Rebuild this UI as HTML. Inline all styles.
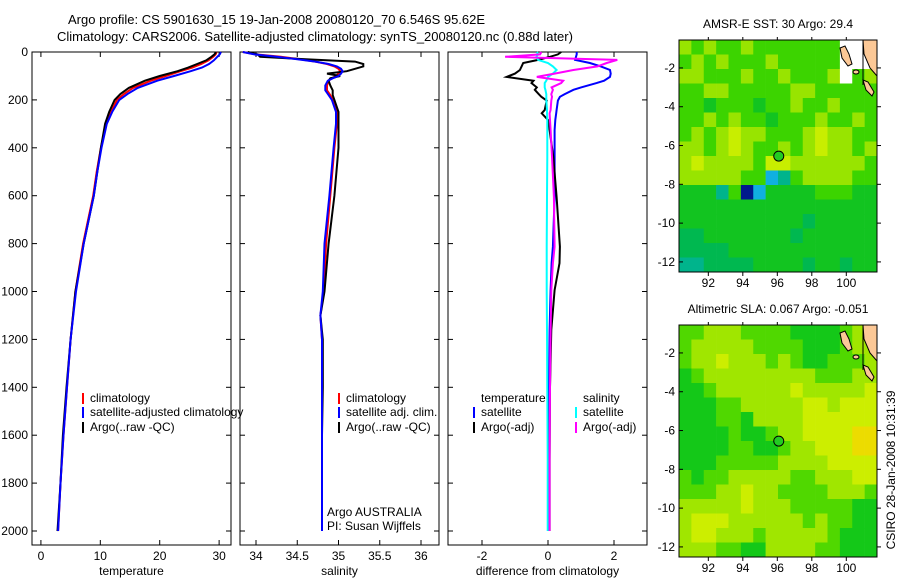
<!DOCTYPE html>
<html><head><meta charset="utf-8"><style>
body{margin:0;background:#fff;}
svg{display:block;font-family:"Liberation Sans",sans-serif;}
text{font-size:12px;fill:#000;}
</style></head><body>
<svg id="fig" width="900" height="580" viewBox="0 0 900 580" xmlns="http://www.w3.org/2000/svg">
<text x="68" y="24" style="font-size:13px">Argo profile: CS 5901630_15 19-Jan-2008 20080120_70 6.546S 95.62E</text>
<text x="57" y="41" style="font-size:13px">Climatology: CARS2006. Satellite-adjusted climatology: synTS_20080120.nc (0.88d later)</text>
<g id="p1"></g>
<g id="p2"></g>
<g id="p3"></g>
<g id="m1"></g>
<g id="m2"></g>
<text transform="translate(895,470) rotate(-90)" text-anchor="middle">CSIRO 28-Jan-2008 10:31:39</text>
</svg>
<script>
const depthTicks=[0,200,400,600,800,1000,1200,1400,1600,1800,2000];
const tempTicks=[0,10,20,30];
const salTicks=[34,34.5,35,35.5,36];
const diffTicks=[-2,0,2];
const tempDepth=[0,10,20,35,50,65,80,100,120,150,175,200,250,300,400,500,600,800,1000,1200,1400,1600,1800,2000];
const tempClim=[29.6,29.4,29.0,28.2,27.0,25.5,23.5,21.0,18.5,15.5,14.0,12.8,11.8,11.0,10.1,9.4,8.8,7.1,5.8,5.0,4.4,3.8,3.3,2.9];
const tempSat=[30.3,30.1,29.7,29.1,28.3,27.1,25.2,22.4,19.6,16.3,14.6,13.2,12.0,11.1,10.2,9.5,8.9,7.2,5.9,5.0,4.4,3.8,3.3,2.9];
const tempArgo=[29.5,29.2,28.7,27.8,26.3,24.8,23.0,20.0,17.5,14.8,13.4,12.4,11.5,10.8,10.1,9.5,8.9,7.2,5.8,5.0,4.3,3.7,3.3,2.8];
const salDepth=[0,10,20,30,40,50,60,70,80,90,100,110,120,140,160,180,200,250,300,400,600,800,1000,1100,1200,1400,1600,1800,2000];
const salClim=[33.84,34.0,34.3,34.53,34.72,34.86,34.95,35.0,35.02,35.0,34.97,34.92,34.88,34.86,34.86,34.9,34.93,34.98,34.98,34.95,34.9,34.85,34.82,34.78,34.8,34.8,34.8,34.8,34.8];
const salSat=[33.84,33.98,34.25,34.5,34.72,34.88,34.98,35.03,35.05,35.03,35.0,34.93,34.87,34.84,34.84,34.88,34.92,34.97,34.97,34.94,34.89,34.83,34.81,34.78,34.8,34.8,34.8,34.8,34.8];
const salArgo=[33.9,34.02,34.05,34.6,35.2,35.3,35.3,35.2,35.1,34.86,35.02,34.9,34.88,34.9,34.93,34.93,34.95,35.0,35.0,35.0,34.95,34.88,34.83,34.78,34.81,34.81,34.8,34.8,34.8];
const diffDepth=[0,10,20,33,46,60,75,90,104,120,130,148,158,176,187,203,242,256,284,326,437,605,813,882,994,1160,1400,1700,2000];
const diffTSat=[0.87,0.87,0.85,0.82,1.27,1.6,1.88,1.9,1.88,1.7,1.47,1.0,0.77,0.5,0.36,0.3,0.26,0.25,0.22,0.2,0.2,0.2,0.15,0.11,0.08,0.05,0.03,0.02,0.02];
const diffTArgo=[0.4,0.3,0.06,-0.3,-0.75,-0.8,-0.85,-1.0,-1.25,-0.44,-0.5,-0.34,-0.4,-0.28,-0.2,-0.04,-0.1,-0.19,0.0,0.05,0.16,0.26,0.36,0.35,0.2,0.1,0.06,0.05,0.05];
const diffSSat=[-0.34,-0.3,-0.35,-0.3,0.0,0.15,0.26,0.15,0.0,-0.05,-0.1,-0.1,-0.08,-0.05,-0.05,-0.05,-0.03,-0.03,-0.02,-0.02,-0.02,-0.03,-0.04,-0.04,-0.04,-0.03,-0.02,-0.01,-0.01];
const diffSArgo=[-0.2,-0.24,-1.3,2.1,1.78,1.5,0.77,0.2,-0.34,0.46,0.4,0.11,0.15,0.1,0.12,0.1,0.08,0.05,0.06,0.08,0.12,0.18,0.2,0.15,0.1,0.08,0.06,0.05,0.05];
const latTicks=[-2,-4,-6,-8,-10,-12];
const lonTicks=[92,94,96,98,100];
const sstGrid=["7676676666666xxx","6767666766666xxx","7766676676667x67","6677666667766666","6656665667667666","6676766566676676","6767877666787766","7767876676787767","7877776887777776","7777766236777766","5553602555566655","5555555555555555","5555555555455555","4455555554555555","4444555555555555","3344445555455455"];
const slaGrid=["6677766665555677","6777776666555677","6778777676556667","5677777777766677","5567777778777778","5556677777887888","5556657777888888","5555655677888899","5555665567788899","5556666677778888","6566777776677788","6667787766667776","7777787776666655","7888777777676655","7887776777776555","7776655777766555"];
const argoLat=-6.546, argoLon=95.62;

const NS='http://www.w3.org/2000/svg';
function mk(tag,attrs,parent){const e=document.createElementNS(NS,tag);for(const k in attrs)e.setAttribute(k,attrs[k]);parent.appendChild(e);return e;}
const Y0=52, PB=545, PT=45;
function yD(d){return Y0+d*0.2395;}

function panel(g,x0,x1,vmin,vmax,xt,title,showDepth){
  const sx=v=>x0+(v-vmin)/(vmax-vmin)*(x1-x0);
  const fr=mk('rect',{x:x0,y:Y0,width:x1-x0,height:PB-Y0,fill:'none',stroke:'#000','stroke-width':1},g);
  
  
  xt.forEach(v=>{const x=sx(v);
    mk('line',{x1:x,x2:x,y1:PB,y2:PB-5,stroke:'#000'},g);
    mk('line',{x1:x,x2:x,y1:Y0,y2:Y0+5,stroke:'#000'},g);
    const t=mk('text',{x:x,y:560,'text-anchor':'middle'},g);t.textContent=v;
    
    
  });
  depthTicks.forEach(d=>{const y=yD(d);
    mk('line',{x1:x0,x2:x0+5,y1:y,y2:y,stroke:'#000'},g);
    mk('line',{x1:x1,x2:x1-5,y1:y,y2:y,stroke:'#000'},g);
    if(showDepth){const t=mk('text',{x:28,y:y+4,'text-anchor':'end'},g);t.textContent=d;
      
      }
  });
  const tt=mk('text',{x:(x0+x1)/2,y:575,'text-anchor':'middle'},g);tt.textContent=title;
  
  
  return sx;
}
function line(g,sx,depths,vals,color,name,w){
  const pts=depths.map((d,i)=>sx(vals[i]).toFixed(1)+','+yD(d).toFixed(1)).join(' ');
  const p=mk('polyline',{points:pts,fill:'none',stroke:color,'stroke-width':w||2},g);
  
  
}
function legend(g,x,y,color,label){
  mk('rect',{x:x,y:y-9,width:2,height:11,fill:color},g);
  const t=mk('text',{x:x+8,y:y},g);t.textContent=label;
  
  
}
const p1=document.getElementById('p1'),p2=document.getElementById('p2'),p3=document.getElementById('p3');
const s1=panel(p1,32,231,-1.5,32,tempTicks,'temperature',true);
line(p1,s1,tempDepth,tempClim,'#f00','temp-climatology-line');
line(p1,s1,tempDepth,tempArgo,'#000','temp-argo-line');
line(p1,s1,tempDepth,tempSat,'#00f','temp-satellite-line');
legend(p1,82,402,'#f00','climatology');legend(p1,82,416,'#00f','satellite-adjusted climatology');legend(p1,82,431,'#000','Argo(..raw -QC)');
const s2=panel(p2,240,439,33.806,36.218,salTicks,'salinity',false);
line(p2,s2,salDepth,salClim,'#f00','sal-climatology-line');
line(p2,s2,salDepth,salArgo,'#000','sal-argo-line');
line(p2,s2,salDepth,salSat,'#00f','sal-satellite-line');
legend(p2,338,402,'#f00','climatology');legend(p2,338,416,'#00f','satellite adj. clim.');legend(p2,338,431,'#000','Argo(..raw -QC)');
let t=mk('text',{x:327,y:516},p2);t.textContent='Argo AUSTRALIA';


t=mk('text',{x:327,y:530},p2);t.textContent='PI: Susan Wijffels';


const s3=panel(p3,448,647,-3.03,3.0,diffTicks,'difference from climatology',false);
line(p3,s3,diffDepth,diffTSat,'#00f','diff-temp-satellite-line');
line(p3,s3,diffDepth,diffTArgo,'#000','diff-temp-argo-line');
line(p3,s3,diffDepth,diffSSat,'#0ff','diff-sal-satellite-line');
line(p3,s3,diffDepth,diffSArgo,'#f0f','diff-sal-argo-line');
t=mk('text',{x:481,y:402},p3);t.textContent='temperature';


t=mk('text',{x:583,y:402},p3);t.textContent='salinity';


legend(p3,473,416,'#00f','satellite');legend(p3,473,431,'#000','Argo(-adj)');
legend(p3,575,416,'#0ff','satellite');legend(p3,575,431,'#f0f','Argo(-adj)');

const sstCol={'0':'#001a8c','1':'#1060e0','2':'#10b0e0','3':'#00b48c','4':'#00b850','5':'#12c420','6':'#3cd400','7':'#98e400','8':'#c8ee00','9':'#f0d000','x':'#fff'};
const slaCol={'5':'#14c818','6':'#50d800','7':'#a0e600','8':'#ccee00','9':'#ecdc00','x':'#fff'};
function map(g,top,grid,cols,title){
  const L=679,R=877,B=top+232,lonMin=90.3,lonMax=101.78,latMax=-0.56,latMin=-12.52;
  const sx=v=>L+(v-lonMin)/(lonMax-lonMin)*(R-L), sy=v=>top+(latMax-v)/(latMax-latMin)*(B-top);
  const nr=grid.length,nc=grid[0].length,cw=(R-L)/nc,ch=(B-top)/nr;
  grid.forEach((row,r)=>{for(let c=0;c<nc;c++){
    const cell=mk('rect',{x:(L+c*cw).toFixed(2),y:(top+r*ch).toFixed(2),width:(cw+0.3).toFixed(2),height:(ch+0.3).toFixed(2),fill:cols[row[c]]},g);
    
    
  }});
  mk('polygon',{points:`863,${top} 877,${top} 877,${top+36} 870,${top+28} 864,${top+14}`,fill:'#fcc896',stroke:'#000','stroke-width':1},g);
  mk('polygon',{points:`840,${top+8} 845,${top+6} 849,${top+14} 852,${top+24} 848,${top+26} 842,${top+18}`,fill:'#fcc896',stroke:'#000','stroke-width':1},g);
  mk('ellipse',{cx:856,cy:top+32,rx:3,ry:2,fill:'#fcc896',stroke:'#000'},g);
  mk('polygon',{points:`863,${top+40} 868,${top+42} 874,${top+52} 872,${top+56} 866,${top+50}`,fill:'#fcc896',stroke:'#000'},g);
  mk('line',{x1:863,x2:863,y1:top,y2:top+45,stroke:'#000'},g);
  mk('rect',{x:L,y:top,width:R-L,height:B-top,fill:'none',stroke:'#000'},g);
  latTicks.forEach(v=>{const y=sy(v);mk('line',{x1:L,x2:L+4,y1:y,y2:y,stroke:'#000'},g);mk('line',{x1:R,x2:R+4,y1:y,y2:y,stroke:'#000'},g);
    const tl=mk('text',{x:L-4,y:y+4,'text-anchor':'end'},g);tl.textContent=v;
    
    });
  lonTicks.forEach(v=>{const x=sx(v);mk('line',{x1:x,x2:x,y1:B,y2:B+4,stroke:'#000'},g);mk('line',{x1:x,x2:x,y1:top,y2:top-3,stroke:'#000'},g);
    const tl=mk('text',{x:x,y:B+15,'text-anchor':'middle'},g);tl.textContent=v;
    
    });
  const dot=mk('circle',{cx:sx(argoLon)+8,cy:sy(argoLat),r:5,fill:'#22cc22',stroke:'#000'},g);
  
  
  const tt=mk('text',{x:(L+R)/2,y:top-12,'text-anchor':'middle'},g);tt.textContent=title;
  
  
}
map(document.getElementById('m1'),40,sstGrid,sstCol,'AMSR-E SST: 30 Argo: 29.4');
map(document.getElementById('m2'),325,slaGrid,slaCol,'Altimetric SLA: 0.067 Argo: -0.051');
</script>
</body></html>
